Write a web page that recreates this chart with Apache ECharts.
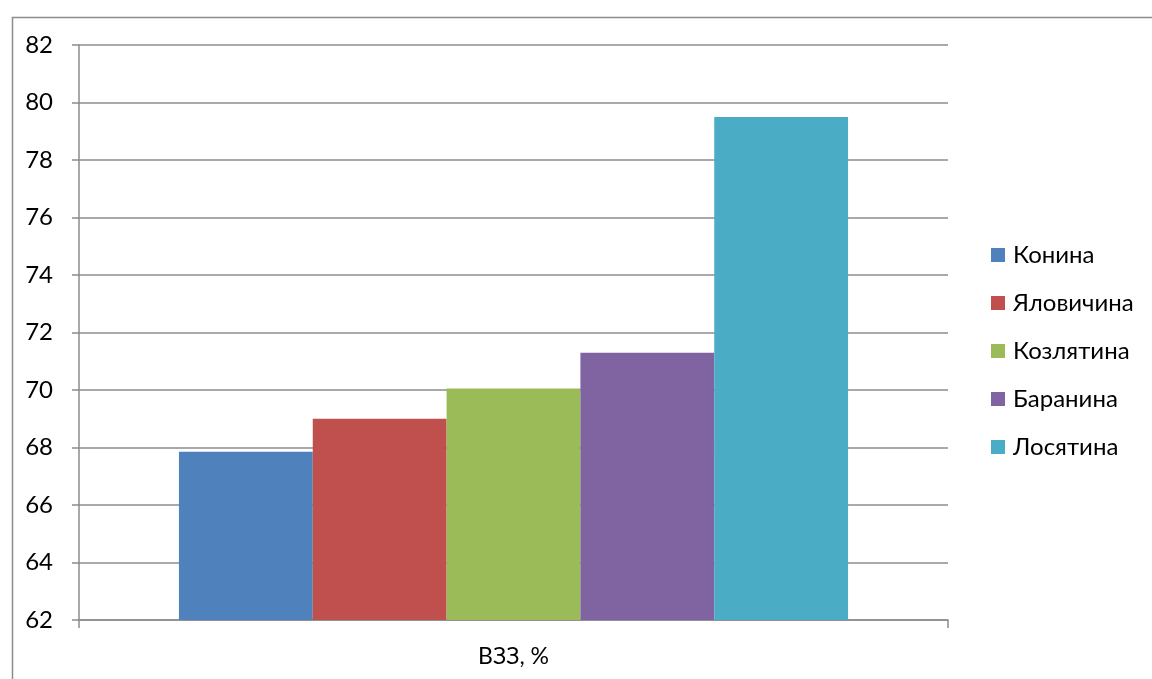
<!DOCTYPE html>
<html>
<head>
<meta charset="utf-8">
<script src="https://cdn.jsdelivr.net/npm/echarts@6/dist/echarts.min.js"></script>
<style>
  html, body { margin: 0; padding: 0; background: #fff; }
  #chart { width: 1152px; height: 679px; }
</style>
</head>
<body>
<div id="chart"></div>
<script>
// Category on the x axis
const categories = ['ВЗЗ, %'];

// Meat types and their values
const seriesNames = ['Конина', 'Яловичина', 'Козлятина', 'Баранина', 'Лосятина'];
const konyna = [67.85];
const yalovychyna = [69.0];
const kozlyatyna = [70.05];
const baranyna = [71.3];
const losyatyna = [79.5];
const seriesValues = [konyna, yalovychyna, kozlyatyna, baranyna, losyatyna];

const colors = ['#4F81BD', '#C0504D', '#9BBB59', '#8064A2', '#4BACC6'];

const FONT = 'Lato, "Open Sans", sans-serif';
const GRID_COLOR = '#8c8c8c';

const chart = echarts.init(document.getElementById('chart'), null, { renderer: 'canvas' });

chart.setOption({
  animation: false,
  backgroundColor: '#ffffff',
  color: colors,
  textStyle: { fontFamily: FONT },
  graphic: [{
    type: 'rect',
    left: 10, top: 15,
    shape: { width: 1300, height: 800 },
    style: { fill: 'none', stroke: '#8c8c8c', lineWidth: 1.5 },
    silent: true,
    z: -1
  }],
  grid: { left: 79, right: 204, top: 45, bottom: 59, containLabel: false },
  legend: {
    orient: 'vertical',
    left: 991,
    top: 241,
    padding: 0,
    itemWidth: 14,
    itemHeight: 14,
    itemGap: 20,
    icon: 'rect',
    textStyle: { fontFamily: FONT, fontSize: 24, lineHeight: 28, color: '#000', padding: [0, 0, 0, 3] },
    data: seriesNames
  },
  xAxis: {
    type: 'category',
    data: categories,
    axisLine: { show: true, lineStyle: { color: GRID_COLOR, width: 1.5 } },
    axisTick: { show: true, length: 8, lineStyle: { color: GRID_COLOR, width: 1.5 } },
    axisLabel: { fontFamily: FONT, fontSize: 23, color: '#000', margin: 25 },
    splitLine: { show: false }
  },
  yAxis: {
    type: 'value',
    min: 62,
    max: 82,
    interval: 2,
    axisLine: { show: true, lineStyle: { color: GRID_COLOR, width: 1.5 } },
    axisTick: { show: true, length: 7, lineStyle: { color: GRID_COLOR, width: 1.5 } },
    axisLabel: { fontFamily: FONT, fontSize: 24, color: '#000', margin: 26 },
    splitLine: { show: true, lineStyle: { color: GRID_COLOR, width: 1.5 } }
  },
  series: seriesNames.map((name, i) => ({
    name: name,
    type: 'bar',
    data: seriesValues[i],
    barGap: '0%',
    barCategoryGap: '23%',
    itemStyle: { color: colors[i] }
  }))
});
</script>
</body>
</html>
